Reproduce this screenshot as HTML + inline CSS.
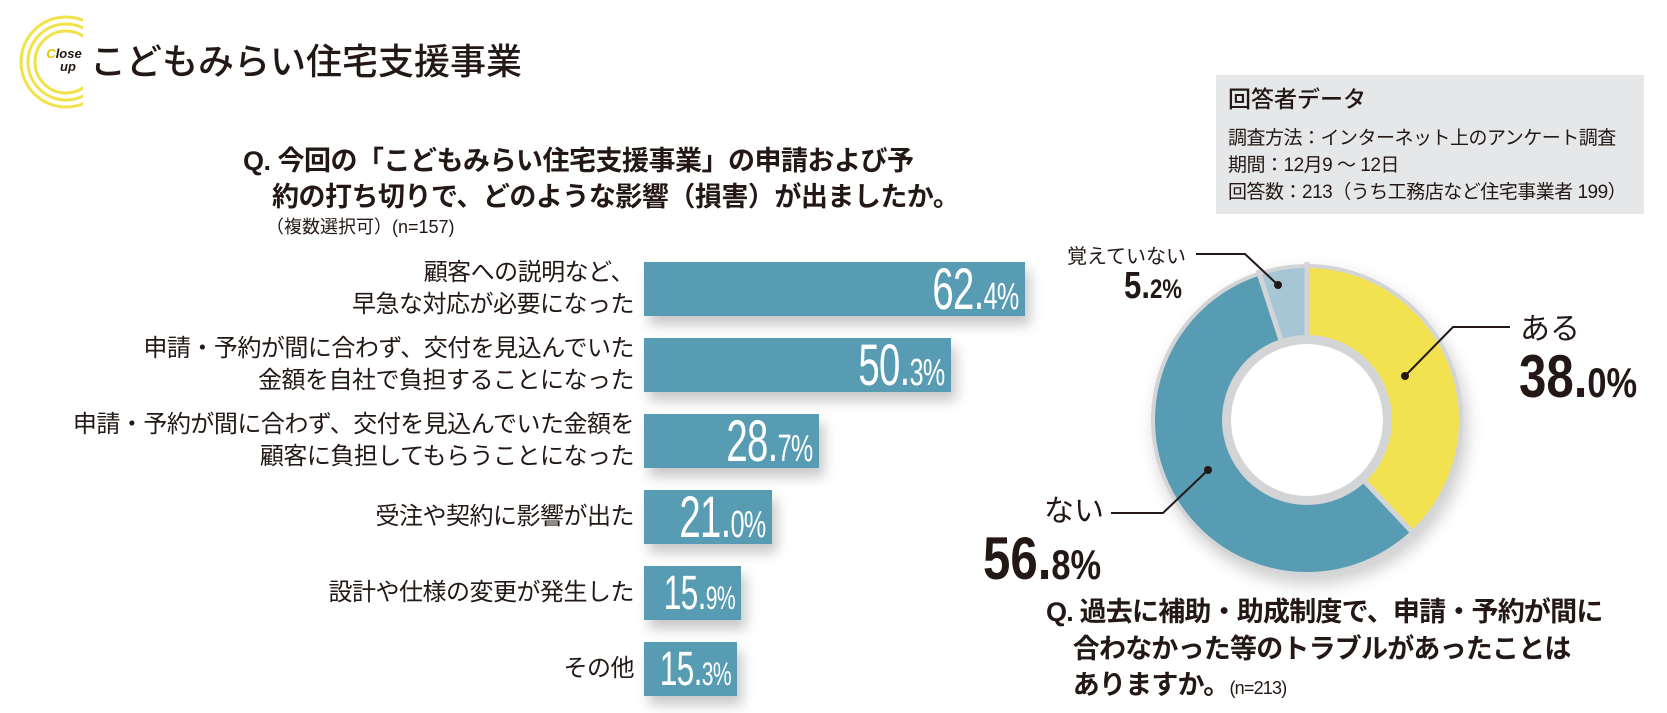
<!DOCTYPE html>
<html><head><meta charset="utf-8"><style>
*{margin:0;padding:0;box-sizing:border-box}
body{width:1667px;height:713px;background:#fff;position:relative;overflow:hidden;font-family:"Liberation Sans","Noto Sans CJK JP",sans-serif;color:#231815}
.a{position:absolute;white-space:nowrap}
.bar{position:absolute;left:644px;height:54px;background:#579cb2;box-shadow:5px 9px 12px rgba(0,0,0,0.22)}
.num{position:absolute;right:6px;top:-5px;color:#fff;font-weight:normal;font-size:58px;line-height:66px;transform:scaleX(0.66);transform-origin:right center;letter-spacing:-1px}
.num small{font-size:38px}
.lbl{position:absolute;right:1033px;text-align:right;font-size:24px;line-height:32px;letter-spacing:-0.5px}
.big{font-weight:bold;transform:scaleX(0.82);transform-origin:left center;display:inline-block}
</style></head><body>
<svg class="a" style="left:0;top:0" width="90" height="120">
<defs><clipPath id="c"><rect x="0" y="0" width="83" height="120"/></clipPath></defs>
<g clip-path="url(#c)" fill="none" stroke="#f2e24a" stroke-width="3">
<circle cx="66" cy="62" r="45"/><circle cx="66" cy="62" r="38"/><circle cx="66" cy="62" r="31"/></g>
<text x="64" y="58" font-family="Liberation Sans" font-weight="bold" font-style="italic" font-size="13" text-anchor="middle" fill="#231815"><tspan fill="#e8c800">C</tspan>lose</text>
<text x="68" y="71" font-family="Liberation Sans" font-weight="bold" font-style="italic" font-size="13" text-anchor="middle" fill="#231815">up</text>
</svg>
<div class="a" style="left:90px;top:40px;font-size:36px;line-height:44px;font-weight:500">こどもみらい住宅支援事業</div>

<div class="a" style="left:243px;top:144px;font-size:27px;line-height:34px;font-weight:bold;letter-spacing:-0.5px">Q. 今回の「こどもみらい住宅支援事業」の申請および予</div>
<div class="a" style="left:272px;top:180px;font-size:27px;line-height:34px;font-weight:bold;letter-spacing:-0.5px">約の打ち切りで、どのような影響（損害）が出ましたか。</div>
<div class="a" style="left:266px;top:215px;font-size:18px;line-height:24px">（複数選択可）(n=157)</div>

<div class="lbl" style="top:257px">顧客への説明など、<br>早急な対応が必要になった</div>
<div class="lbl" style="top:333px">申請・予約が間に合わず、交付を見込んでいた<br>金額を自社で負担することになった</div>
<div class="lbl" style="top:409px">申請・予約が間に合わず、交付を見込んでいた金額を<br>顧客に負担してもらうことになった</div>
<div class="lbl" style="top:501px">受注や契約に影響が出た</div>
<div class="lbl" style="top:577px">設計や仕様の変更が発生した</div>
<div class="lbl" style="top:653px">その他</div>

<div class="bar" style="top:262px;width:381px"><span class="num">62.<small>4%</small></span></div>
<div class="bar" style="top:338px;width:307px"><span class="num">50.<small>3%</small></span></div>
<div class="bar" style="top:414px;width:175px"><span class="num">28.<small>7%</small></span></div>
<div class="bar" style="top:490px;width:128px"><span class="num">21.<small>0%</small></span></div>
<div class="bar" style="top:566px;width:97px"><span class="num" style="font-size:48px"><span>15.</span><small style="font-size:32px">9%</small></span></div>
<div class="bar" style="top:642px;width:93px"><span class="num" style="font-size:48px"><span>15.</span><small style="font-size:32px">3%</small></span></div>

<div class="a" style="left:1216px;top:75px;width:428px;height:139px;background:#e6e7e8"></div>
<div class="a" style="left:1228px;top:85px;font-size:23px;line-height:28px;font-weight:500">回答者データ</div>
<div class="a" style="left:1228px;top:125px;font-size:19px;line-height:27px;letter-spacing:-0.5px">調査方法：インターネット上のアンケート調査<br>期間：12月9 ～ 12日<br>回答数：213（うち工務店など住宅事業者 199）</div>

<svg class="a" style="left:1100px;top:220px" width="567" height="400" viewBox="1100 220 567 400">
<defs><filter id="sh" x="-20%" y="-20%" width="140%" height="140%"><feDropShadow dx="4" dy="8" stdDeviation="8" flood-color="#000" flood-opacity="0.2"/></filter></defs>
<circle cx="1307" cy="420" r="156" fill="#d3d4d6" filter="url(#sh)"/>
<g transform="rotate(-90 1307 420)" fill="none" stroke-width="68">
<circle cx="1307" cy="420" r="118" stroke="#f3e250" stroke-dasharray="281.7 1000"/>
<circle cx="1307" cy="420" r="118" stroke="#579cb2" stroke-dasharray="0 281.7 421.1 1000"/>
<circle cx="1307" cy="420" r="118" stroke="#a6c6d5" stroke-dasharray="0 702.8 38.6 1000"/>
</g>
<g stroke="#d3d4d6" stroke-width="5">
<line x1="1307" y1="420" x2="1307" y2="262"/>
<line x1="1307" y1="420" x2="1415" y2="535"/>
<line x1="1307" y1="420" x2="1258" y2="270"/>
</g>
<circle cx="1307" cy="420" r="85" fill="#d3d4d6"/>
<circle cx="1307" cy="420" r="76" fill="#fff"/>
<g stroke="#231815" stroke-width="2" fill="none">
<polyline points="1405,376 1453,327 1510,327"/>
<polyline points="1278,285 1245,254 1196,254"/>
<polyline points="1208,470 1163,513 1111,513"/>
</g>
<g fill="#231815"><circle cx="1405" cy="376" r="4"/><circle cx="1278" cy="285" r="4"/><circle cx="1208" cy="470" r="4"/></g>
</svg>

<div class="a" style="left:1067px;top:245px;font-size:20px;line-height:24px">覚えていない</div>
<div class="a" style="left:1124px;top:266px;font-size:38px;line-height:40px"><span class="big">5.<span style="font-size:27px">2%</span></span></div>
<div class="a" style="left:1520px;top:312px;font-size:30px;line-height:36px">ある</div>
<div class="a" style="left:1519px;top:346px;font-size:60px;line-height:62px"><span class="big">38.<span style="font-size:42px">0%</span></span></div>
<div class="a" style="left:1044px;top:494px;font-size:30px;line-height:36px">ない</div>
<div class="a" style="left:983px;top:528px;font-size:60px;line-height:62px"><span class="big">56.<span style="font-size:42px">8%</span></span></div>

<div class="a" style="left:1046px;top:594px;font-size:27px;line-height:36.5px;font-weight:bold;letter-spacing:-0.8px">Q. 過去に補助・助成制度で、申請・予約が間に<br>&nbsp;&nbsp;&nbsp;&nbsp;合わなかった等のトラブルがあったことは<br>&nbsp;&nbsp;&nbsp;&nbsp;ありますか。<span style="font-weight:normal;font-size:18px">(n=213)</span></div>
</body></html>
